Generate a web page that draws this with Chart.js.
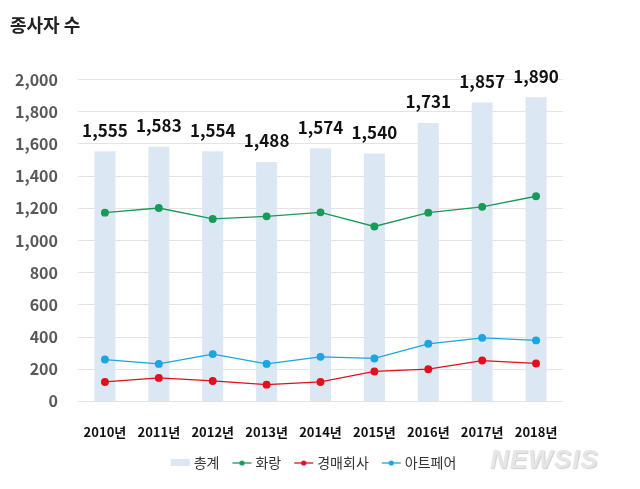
<!DOCTYPE html>
<html>
<head>
<meta charset="utf-8">
<script src="https://cdn.jsdelivr.net/npm/chart.js@4"></script>
<style>
  html, body { margin: 0; padding: 0; background: #fff; }
  #wrap { position: relative; width: 640px; height: 489px; }
  #mark { position: absolute; left: 490px; top: 444px; font: italic 900 26px "Liberation Sans", sans-serif;
          color: #e6e6e6; letter-spacing: 1px; text-shadow: 1px 1px 1px #cfcfcf; }
</style>
</head>
<body>
<div id="wrap">
  <canvas id="chart" width="640" height="489"></canvas>
  <div id="mark">NEWSIS</div>
</div>
<script>
const years = ['2010년', '2011년', '2012년', '2013년', '2014년', '2015년', '2016년', '2017년', '2018년'];
const total = [1555, 1583, 1554, 1488, 1574, 1540, 1731, 1857, 1890];
const gallery = [1173, 1202, 1134, 1150, 1175, 1087, 1173, 1209, 1275];
const auction = [121, 146, 127, 104, 121, 186, 200, 254, 236];
const artFair = [260, 233, 294, 233, 277, 267, 358, 395, 379];
const yTicks = [0, 200, 400, 600, 800, 1000, 1200, 1400, 1600, 1800, 2000];

const font = '"Noto Sans CJK KR", sans-serif';
const barColor = '#dce7f4';
const greenColor = '#1a9a58';
const redColor = '#e0101c';
const blueColor = '#1ba6df';

// legend icons sit on the right part of a wider canvas,
// the empty left part is the gap between legend items
function lineIcon(color){
    const c = document.createElement('canvas');
    c.width = 40; c.height = 8;
    const g = c.getContext('2d');
    g.strokeStyle = color; g.lineWidth = 1.3;
    g.beginPath(); g.moveTo(18, 4); g.lineTo(37, 4); g.stroke();
    g.fillStyle = color;
    g.beginPath(); g.arc(27.5, 4, 2.6, 0, Math.PI * 2); g.fill();
    return c;
}
function boxIcon(color){
    const c = document.createElement('canvas');
    c.width = 40; c.height = 8;
    const g = c.getContext('2d');
    g.fillStyle = color; g.fillRect(18, 0, 19, 7);
    return c;
}
const icons = [boxIcon(barColor), lineIcon(greenColor), lineIcon(redColor), lineIcon(blueColor)];

const barLabels = {
    id: 'barLabels',
    afterDatasetsDraw(chart){
        const ctx = chart.ctx;
        const meta = chart.getDatasetMeta(0);
        ctx.save();
        ctx.font = 'bold 17px ' + font;
        ctx.fillStyle = '#111';
        ctx.textAlign = 'center';
        ctx.textBaseline = 'middle';
        meta.data.forEach(function(bar, i){
            ctx.fillText(total[i].toLocaleString('en-US'), bar.x, bar.y - 21);
        });
        ctx.restore();
    }
};

new Chart(document.getElementById('chart'), {
    type: 'bar',
    data: {
        labels: years,
        datasets: [
            { type: 'bar', label: '총계', data: total, backgroundColor: barColor,
              barPercentage: 0.39, categoryPercentage: 1, order: 2 },
            { type: 'line', label: '화랑', data: gallery, borderColor: greenColor, backgroundColor: greenColor,
              borderWidth: 1.3, pointRadius: 3.3, pointHoverRadius: 3.3, order: 1 },
            { type: 'line', label: '경매회사', data: auction, borderColor: redColor, backgroundColor: redColor,
              borderWidth: 1.3, pointRadius: 3.3, pointHoverRadius: 3.3, order: 1 },
            { type: 'line', label: '아트페어', data: artFair, borderColor: blueColor, backgroundColor: blueColor,
              borderWidth: 1.3, pointRadius: 3.3, pointHoverRadius: 3.3, order: 1 }
        ]
    },
    options: {
        responsive: false,
        animation: false,
        layout: { padding: { left: 10, right: 35, top: 10, bottom: 9 } },
        plugins: {
            title: {
                display: true, text: '종사자 수', align: 'start', color: '#222',
                font: { family: font, size: 18, weight: 'bold' },
                padding: { top: 4, bottom: 44 }
            },
            legend: {
                position: 'bottom',
                labels: {
                    usePointStyle: true,
                    pointStyleWidth: 28,
                    color: '#333',
                    font: { family: font, size: 14 },
                    padding: 1,
                    sort: (a, b) => a.datasetIndex - b.datasetIndex,
                    generateLabels(chart){
                        const items = Chart.defaults.plugins.legend.labels.generateLabels(chart);
                        items.forEach(function(it){ it.pointStyle = icons[it.datasetIndex]; });
                        return items;
                    }
                }
            },
            tooltip: { enabled: false }
        },
        scales: {
            x: {
                grid: { display: false },
                border: { display: false },
                ticks: { color: '#111', font: { family: font, size: 13, weight: 'bold' }, padding: 15 }
            },
            y: {
                min: 0, max: 2000,
                afterBuildTicks(scale){ scale.ticks = yTicks.map(v => ({ value: v })); },
                afterFit(scale){ scale.width = 68; },
                grid: { color: '#e3e3e3', drawTicks: false },
                border: { display: false },
                ticks: {
                    color: '#595959', padding: 20,
                    font: { family: font, size: 16, weight: 'bold' },
                    callback: v => v.toLocaleString('en-US')
                }
            },
            // empty right margin, so the legend can be centred like the original
            yRight: {
                position: 'right',
                afterFit(scale){ scale.width = 42; },
                grid: { display: false },
                border: { display: false },
                ticks: { display: false }
            }
        }
    },
    plugins: [barLabels]
});
</script>
</body>
</html>
